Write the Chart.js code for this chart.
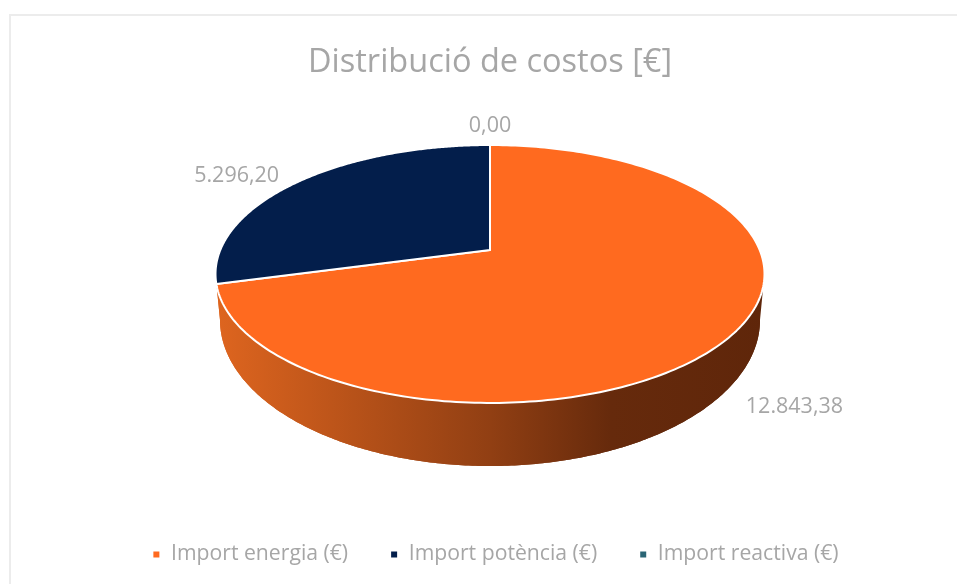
<!DOCTYPE html>
<html>
<head>
<meta charset="utf-8">
<style>
  html, body { margin: 0; padding: 0; background: #fff; overflow: hidden; width: 957px; height: 584px; }
  #wrap { position: relative; width: 957px; height: 584px; overflow: hidden; }
  #frame { position: absolute; left: 9px; top: 14px; right: 0; bottom: 0; border-left: 2px solid #ececec; border-top: 2px solid #ececec; }
  canvas { position: absolute; left: 0; top: 0; }
</style>
<script src="https://cdn.jsdelivr.net/npm/chart.js@4/dist/chart.umd.min.js"></script>
</head>
<body>
<div id="wrap">
  <div id="frame"></div>
  <canvas id="c" width="980" height="575"></canvas>
</div>
<script>
const titleText = 'Distribució de costos [€]';
const categories = ['Import energia (€)', 'Import potència (€)', 'Import reactiva (€)'];
const costValues = [12843.38, 5296.20, 0];
const sliceColors = ['#FF6A1F', '#031E4B', '#2A6575'];
const GREY = '#A6A6A6';
const FONT = '"Open Sans", sans-serif';

function fmt(v) {
  const [i, d] = v.toFixed(2).split('.');
  return i.replace(/\B(?=(\d{3})+$)/g, '.') + ',' + d;
}

// perspective view of the unit disc lying on a table
const view = { cx: 490, cy: 250, a: 269.7, b: 124.5, k: 0.186 };
const base = { cx: 490, cy: 320, a: 270, b: 146 };
function topPoint(theta, r) {
  const u = r * Math.cos(theta), v = -r * Math.sin(theta);
  const w = 1 + view.k * v;
  return [view.cx + view.a * u / w, view.cy - view.b * v / w];
}
function basePoint(theta) {
  return [base.cx + base.a * Math.cos(theta), base.cy + base.b * Math.sin(theta)];
}
const RIM_FROM = Math.asin(view.k);
const RIM_TO = Math.PI - RIM_FROM;
const STEPS = 240;

const labelNudge = [[63, 72], [-61, -6], [0, -19]];

const pie3d = {
  id: 'pie3d',
  afterLayout(chart) {
    chart.legend.left += 5.5;
    chart.legend.right += 5.5;
  },
  beforeDatasetDraw(chart, args) {
    const ctx = chart.ctx;
    const arcs = args.meta.data;
    // side wall
    arcs.forEach((arc) => {
      const s = Math.max(arc.startAngle, RIM_FROM), e = Math.min(arc.endAngle, RIM_TO);
      if (e <= s) return;
      const g = ctx.createLinearGradient(216, 0, 765, 0);
      g.addColorStop(0, '#DE651F');
      g.addColorStop(0.5, '#913F13');
      g.addColorStop(0.72, '#662A0C');
      g.addColorStop(1, '#5F260A');
      ctx.beginPath();
      for (let i = 0; i <= STEPS; i++) {
        const p = topPoint(s + (e - s) * i / STEPS, 1);
        i ? ctx.lineTo(p[0], p[1]) : ctx.moveTo(p[0], p[1]);
      }
      for (let i = 0; i <= STEPS; i++) {
        const p = basePoint(Math.PI - Math.PI * i / STEPS);
        ctx.lineTo(p[0], p[1]);
      }
      ctx.closePath();
      ctx.fillStyle = g;
      ctx.fill();
    });
    // top face
    arcs.forEach((arc) => {
      if (arc.endAngle - arc.startAngle <= 0) return;
      ctx.beginPath();
      const c = topPoint(0, 0);
      ctx.moveTo(c[0], c[1]);
      for (let i = 0; i <= STEPS; i++) {
        const p = topPoint(arc.startAngle + (arc.endAngle - arc.startAngle) * i / STEPS, 1);
        ctx.lineTo(p[0], p[1]);
      }
      ctx.closePath();
      ctx.fillStyle = arc.options.backgroundColor;
      ctx.fill();
      ctx.lineWidth = 2;
      ctx.lineJoin = 'round';
      ctx.strokeStyle = '#fff';
      ctx.stroke();
    });
    // value labels
    ctx.font = '21.5px ' + FONT;
    ctx.fillStyle = GREY;
    ctx.textAlign = 'center';
    ctx.textBaseline = 'middle';
    arcs.forEach((arc, i) => {
      const p = topPoint((arc.startAngle + arc.endAngle) / 2, 1);
      ctx.fillText(fmt(costValues[i]), p[0] + labelNudge[i][0], p[1] + labelNudge[i][1]);
    });
    return false;
  }
};

new Chart(document.getElementById('c'), {
  type: 'pie',
  data: {
    labels: categories,
    datasets: [{ data: costValues, backgroundColor: sliceColors, borderColor: '#fff', borderWidth: 2 }]
  },
  options: {
    responsive: false,
    animation: false,
    events: [],
    plugins: {
      title: {
        display: true,
        text: titleText,
        color: GREY,
        font: { family: FONT, size: 32.5, weight: 'normal' },
        padding: { top: 43, bottom: 10 }
      },
      legend: {
        position: 'bottom',
        labels: {
          color: GREY,
          font: { family: FONT, size: 21.2 },
          usePointStyle: true,
          pointStyle: 'rect',
          boxWidth: 8,
          boxHeight: 8,
          padding: 42
        }
      },
      tooltip: { enabled: false }
    }
  },
  plugins: [pie3d]
});
</script>
</body>
</html>
